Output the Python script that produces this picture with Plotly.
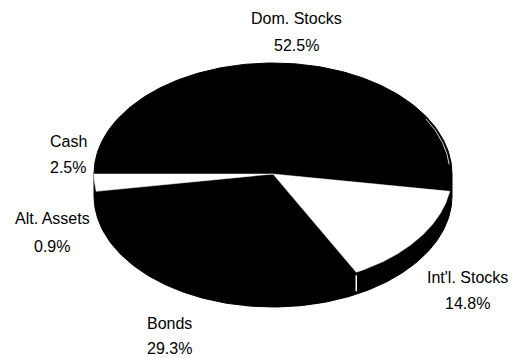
import numpy as np
import plotly.graph_objects as go

# Asset allocation
labels = ["Dom. Stocks", "Int'l. Stocks", "Bonds", "Alt. Assets", "Cash"]
shares = [52.5, 14.8, 29.3, 0.9, 2.5]
top_colors = ["#000000", "#ffffff", "#000000", "#000000", "#ffffff"]

# label anchors in page pixels: name line and percent line
label_x = [296, 467, 169, 52, 68]
name_y = [18, 277, 323, 218, 141]
pct_y = [45, 303, 348, 246, 167]

W, H = 514, 358
CX, CY, RX, RY, DEPTH = 273, 174, 179, 111, 22
START = 180.0  # sweep starts at 9 o'clock and runs clockwise


def rim(t_deg, drop=0.0, scale=1.0):
    t = np.radians(t_deg)
    return CX + scale * RX * np.cos(t), CY + scale * RY * np.sin(t) + drop


fig = go.Figure()

# solid body: back half of the top rim plus the lowered front rim
tb = np.linspace(180, 360, 180)
tf = np.linspace(0, 180, 180)
bx1, by1 = rim(tb)
bx2, by2 = rim(tf, drop=DEPTH)
fig.add_trace(go.Scatter(
    x=np.concatenate([bx1, bx2, bx1[:1]]),
    y=np.concatenate([by1, by2, by1[:1]]),
    mode="lines", fill="toself", fillcolor="#000000",
    line=dict(color="#000000", width=1), hoverinfo="skip"))

# slice angle ranges
frac = np.array(shares) / sum(shares)
ends = START + np.cumsum(frac) * 360.0
starts = np.concatenate([[START], ends[:-1]])

# seam on the wall between Int'l. Stocks and Bonds
seam_t = ends[1] % 360
sx, sy = rim(seam_t)
fig.add_trace(go.Scatter(x=[sx, sx], y=[sy + 3, sy + DEPTH - 3], mode="lines",
                         line=dict(color="#ffffff", width=1.5), hoverinfo="skip"))

# top face slices (light ones stand out against the dark body)
for a0, a1, c in zip(starts, ends, top_colors):
    if c == "#000000":
        continue
    t = np.linspace(a0, a1, max(8, int((a1 - a0) * 2)))
    xa, ya = rim(t)
    fig.add_trace(go.Scatter(
        x=np.concatenate([[CX], xa, [CX]]),
        y=np.concatenate([[CY], ya, [CY]]),
        mode="lines", fill="toself", fillcolor=c,
        line=dict(color=c, width=0.5), hoverinfo="skip"))

# faint highlight along the upper right rim
ht = np.linspace(330, 355, 30)
hx, hy = rim(ht, scale=0.988)
fig.add_trace(go.Scatter(x=hx, y=hy, mode="lines",
                         line=dict(color="#d8d8d8", width=1), hoverinfo="skip"))

font = dict(family="Liberation Sans, Arial, sans-serif", size=16, color="#000000")
for name, v, x, y1, y2 in zip(labels, shares, label_x, name_y, pct_y):
    fig.add_annotation(x=x, y=y1, text=name, showarrow=False, font=font,
                       xanchor="center", yanchor="middle")
    fig.add_annotation(x=x, y=y2, text=f"{v:.1f}%", showarrow=False, font=font,
                       xanchor="center", yanchor="middle")

fig.update_layout(
    width=W, height=H, autosize=False,
    margin=dict(l=0, r=0, t=0, b=0),
    paper_bgcolor="#ffffff", plot_bgcolor="#ffffff",
    showlegend=False,
    xaxis=dict(range=[0, W], visible=False, fixedrange=True),
    yaxis=dict(range=[H, 0], visible=False, fixedrange=True),
)

fig.write_html("out.html")
